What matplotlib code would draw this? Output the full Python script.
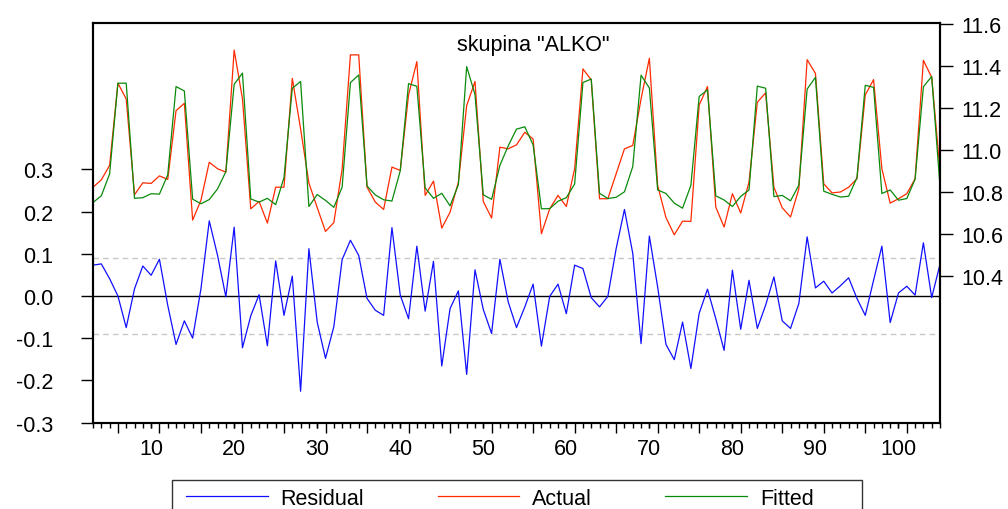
import matplotlib
matplotlib.use("Agg")
import matplotlib.pyplot as plt
from matplotlib.patches import Rectangle
import numpy as np

plt.rcParams['font.family'] = ['Liberation Sans', 'DejaVu Sans']

# observation numbers 3..105
obs = np.arange(3, 106)

residual = [0.073, 0.076, 0.041, 0.000, -0.075, 0.017, 0.071, 0.049, 0.087, -0.022,
            -0.115, -0.059, -0.100, 0.017, 0.178, 0.096, -0.002, 0.163, -0.123, -0.047,
            0.003, -0.118, 0.083, -0.046, 0.047, -0.226, 0.112, -0.062, -0.148, -0.073,
            0.086, 0.132, 0.096, -0.006, -0.034, -0.046, 0.162, 0.002, -0.054, 0.118,
            -0.036, 0.082, -0.166, -0.030, 0.012, -0.186, 0.062, -0.032, -0.089, 0.087,
            -0.014, -0.075, -0.026, 0.028, -0.119, -0.001, 0.028, -0.042, 0.073, 0.065,
            -0.004, -0.026, -0.001, 0.112, 0.205, 0.101, -0.113, 0.142, 0.021, -0.115,
            -0.151, -0.062, -0.172, -0.041, 0.016, -0.054, -0.129, 0.061, -0.079, 0.037,
            -0.077, -0.022, 0.045, -0.059, -0.077, -0.018, 0.140, 0.019, 0.035, 0.007,
            0.024, 0.043, -0.006, -0.046, 0.037, 0.118, -0.063, 0.007, 0.023, 0.002,
            0.126, -0.004, 0.075]

actual = [10.822, 10.857, 10.926, 11.318, 11.243, 10.786, 10.843, 10.840, 10.876, 10.859,
          11.187, 11.222, 10.665, 10.760, 10.941, 10.910, 10.894, 11.476, 11.243, 10.719,
          10.754, 10.651, 10.822, 10.822, 11.341, 11.100, 10.842, 10.725, 10.611, 10.653,
          10.908, 11.453, 11.453, 10.822, 10.751, 10.716, 10.918, 10.902, 11.262, 11.421,
          10.783, 10.851, 10.627, 10.703, 10.846, 11.211, 11.326, 10.754, 10.675, 11.013,
          11.005, 11.024, 11.084, 11.052, 10.600, 10.719, 10.783, 10.730, 10.910, 11.386,
          11.334, 10.767, 10.767, 10.886, 11.005, 11.021, 11.243, 11.437, 10.830, 10.677,
          10.595, 10.660, 10.659, 11.214, 11.302, 10.727, 10.632, 10.791, 10.699, 10.846,
          11.227, 11.272, 10.822, 10.724, 10.680, 10.814, 11.430, 11.365, 10.838, 10.795,
          10.799, 10.822, 10.862, 11.262, 11.335, 10.910, 10.746, 10.767, 10.791, 10.862,
          11.427, 11.346, 10.902]

# fitted = actual - residual (by definition of the regression output)
fitted = np.array(actual) - np.array(residual)

se = 0.0895  # standard error of regression (dashed band)

left_ticks = [-0.3, -0.2, -0.1, 0.0, 0.1, 0.2, 0.3]
right_ticks = [10.4, 10.6, 10.8, 11.0, 11.2, 11.4, 11.6]
x_labels = [10, 20, 30, 40, 50, 60, 70, 80, 90, 100]

fs = 15.5
fig = plt.figure(figsize=(10.08, 5.10), dpi=100)
ax = fig.add_axes([93 / 1008, 1 - 423.5 / 510, 847 / 1008, 399.5 / 510])
ax2 = ax.twinx()

ax.axhline(0, color='black', lw=1.0, zorder=1)
ax.axhline(se, color='#c8c8c8', lw=1.0, ls=(0, (4, 3)), zorder=1)
ax.axhline(-se, color='#c8c8c8', lw=1.0, ls=(0, (4, 3)), zorder=1)
l1, = ax.plot(obs, residual, color='#1010ff', lw=0.9, label='Residual')
l2, = ax2.plot(obs, actual, color='#ff2a00', lw=0.9, label='Actual')
l3, = ax2.plot(obs, fitted, color='#0a8a0a', lw=0.9, label='Fitted')

ax.set_xlim(3, 105)
ax.set_ylim(-0.3, 0.647)
ax2.set_ylim(9.70, 11.605)

ax.set_yticks(left_ticks)
ax.set_yticklabels(['%.1f' % v for v in left_ticks])
ax2.set_yticks(right_ticks)
ax2.set_yticklabels(['%.1f' % v for v in right_ticks])

ax.tick_params(axis='y', direction='out', length=8.6, width=1, pad=20, labelsize=fs)
ax2.tick_params(axis='y', direction='out', length=9, width=1, pad=6.5, labelsize=fs)

# long ticks every 5 obs, short ticks every obs, labels every 10
ax.set_xticks(np.arange(6, 106, 5))
ax.set_xticks(obs, minor=True)
ax.tick_params(axis='x', which='major', direction='out', length=7.2, width=1, labelbottom=False)
ax.tick_params(axis='x', which='minor', direction='out', length=3.6, width=1)
sec = ax.secondary_xaxis('bottom')
sec.set_xticks(x_labels)
sec.tick_params(axis='x', direction='out', length=3.6, width=1, pad=7.5, labelsize=fs)
sec.spines['bottom'].set_visible(False)

for a in (ax, ax2):
    for s in a.spines.values():
        s.set_linewidth(1.5)

fig.text(533 / 1008, 1 - 45 / 510, 'skupina "ALKO"', ha='center', va='center', fontsize=15.5)

fig.legend([l1, l2, l3], ['Residual', 'Actual', 'Fitted'], ncol=3, loc='upper left',
           bbox_to_anchor=(186 / 1008, 1 - 489 / 510), frameon=False,
           fontsize=fs, handlelength=3.8, handletextpad=0.6, columnspacing=3.4,
           borderpad=0, borderaxespad=0)
fig.patches.append(Rectangle((172 / 1008, -0.05), 690 / 1008, 0.05 + (510 - 481) / 510,
                             transform=fig.transFigure, fill=False,
                             edgecolor='#333333', lw=1.0))

fig.savefig('out.png', dpi=100)
